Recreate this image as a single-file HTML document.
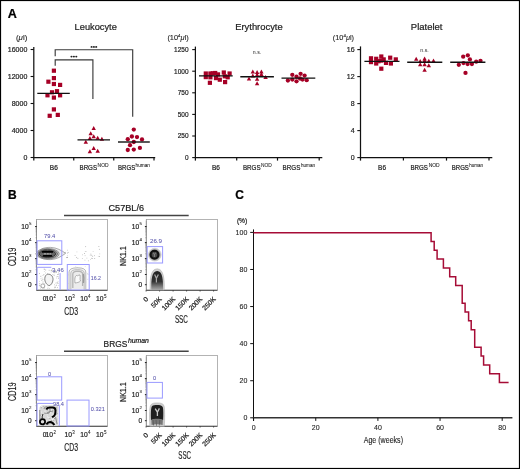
<!DOCTYPE html>
<html><head><meta charset="utf-8"><style>
html,body{margin:0;padding:0;background:#fff;}
svg{display:block;will-change:transform;font-family:"Liberation Sans",sans-serif;}
</style></head><body>
<svg width="520" height="469" viewBox="0 0 520 469" fill="#1e1e1e">
<rect x="0" y="0" width="520" height="469" fill="#fff"/>
<text x="7.8" y="17.6" font-size="12.2" textLength="9.1" lengthAdjust="spacingAndGlyphs" font-weight="bold" fill="#000" stroke="#000" stroke-width="0.22">A</text>
<line x1="33.8" y1="47" x2="33.8" y2="160.6" stroke="#111" stroke-width="1.25"/>
<line x1="33.3" y1="157.6" x2="155.2" y2="157.6" stroke="#111" stroke-width="1.25"/>
<line x1="30.6" y1="49.5" x2="33.8" y2="49.5" stroke="#111" stroke-width="1.1"/>
<text x="27.3" y="51.95" font-size="7.6" text-anchor="end" textLength="19.5" lengthAdjust="spacingAndGlyphs" stroke="#1e1e1e" stroke-width="0.22">16000</text>
<line x1="30.6" y1="76.5" x2="33.8" y2="76.5" stroke="#111" stroke-width="1.1"/>
<text x="27.3" y="78.95" font-size="7.6" text-anchor="end" textLength="19.5" lengthAdjust="spacingAndGlyphs" stroke="#1e1e1e" stroke-width="0.22">12000</text>
<line x1="30.6" y1="103.5" x2="33.8" y2="103.5" stroke="#111" stroke-width="1.1"/>
<text x="27.3" y="105.95" font-size="7.6" text-anchor="end" textLength="15.6" lengthAdjust="spacingAndGlyphs" stroke="#1e1e1e" stroke-width="0.22">8000</text>
<line x1="30.6" y1="130.5" x2="33.8" y2="130.5" stroke="#111" stroke-width="1.1"/>
<text x="27.3" y="132.95" font-size="7.6" text-anchor="end" textLength="15.6" lengthAdjust="spacingAndGlyphs" stroke="#1e1e1e" stroke-width="0.22">4000</text>
<line x1="30.6" y1="157.5" x2="33.8" y2="157.5" stroke="#111" stroke-width="1.1"/>
<text x="27.3" y="159.95" font-size="7.6" text-anchor="end" textLength="3.9" lengthAdjust="spacingAndGlyphs" stroke="#1e1e1e" stroke-width="0.22">0</text>
<line x1="73.75" y1="157.5" x2="73.75" y2="160.6" stroke="#111" stroke-width="1.2"/>
<line x1="113.75" y1="157.5" x2="113.75" y2="160.6" stroke="#111" stroke-width="1.2"/>
<line x1="154" y1="157.5" x2="154" y2="160.6" stroke="#111" stroke-width="1.2"/>
<text x="74.6" y="29.8" font-size="9.8" textLength="42.2" lengthAdjust="spacingAndGlyphs" stroke="#1e1e1e" stroke-width="0.22">Leukocyte</text>
<text x="16" y="40.3" font-size="6.9" textLength="11.3" lengthAdjust="spacingAndGlyphs" stroke="#1e1e1e" stroke-width="0.1">(<tspan font-style="italic">μ</tspan>l)</text>
<text x="49.8" y="170.35" font-size="7.5" textLength="8" lengthAdjust="spacingAndGlyphs" stroke="#1e1e1e" stroke-width="0.22">B6</text>
<text x="79.5" y="170.35" font-size="7.5" textLength="17.6" lengthAdjust="spacingAndGlyphs" stroke="#1e1e1e" stroke-width="0.22">BRGS</text>
<text x="97.6" y="166.5" font-size="5" textLength="11" lengthAdjust="spacingAndGlyphs" stroke="#1e1e1e" stroke-width="0.08">NOD</text>
<text x="118" y="170.35" font-size="7.5" textLength="17.3" lengthAdjust="spacingAndGlyphs" stroke="#1e1e1e" stroke-width="0.22">BRGS</text>
<text x="135.6" y="166.5" font-size="5" textLength="14.4" lengthAdjust="spacingAndGlyphs" stroke="#1e1e1e" stroke-width="0.08">human</text>
<line x1="195.4" y1="46.6" x2="195.4" y2="160.6" stroke="#111" stroke-width="1.25"/>
<line x1="194.9" y1="157.6" x2="322.3" y2="157.6" stroke="#111" stroke-width="1.25"/>
<line x1="192.2" y1="49.6" x2="195.4" y2="49.6" stroke="#111" stroke-width="1.1"/>
<text x="188.5" y="52.05" font-size="7.6" text-anchor="end" textLength="14.4" lengthAdjust="spacingAndGlyphs" stroke="#1e1e1e" stroke-width="0.22">1250</text>
<line x1="192.2" y1="71.2" x2="195.4" y2="71.2" stroke="#111" stroke-width="1.1"/>
<text x="188.5" y="73.65" font-size="7.6" text-anchor="end" textLength="14.4" lengthAdjust="spacingAndGlyphs" stroke="#1e1e1e" stroke-width="0.22">1000</text>
<line x1="192.2" y1="92.8" x2="195.4" y2="92.8" stroke="#111" stroke-width="1.1"/>
<text x="188.5" y="95.25" font-size="7.6" text-anchor="end" textLength="10.8" lengthAdjust="spacingAndGlyphs" stroke="#1e1e1e" stroke-width="0.22">750</text>
<line x1="192.2" y1="114.4" x2="195.4" y2="114.4" stroke="#111" stroke-width="1.1"/>
<text x="188.5" y="116.85" font-size="7.6" text-anchor="end" textLength="10.8" lengthAdjust="spacingAndGlyphs" stroke="#1e1e1e" stroke-width="0.22">500</text>
<line x1="192.2" y1="136" x2="195.4" y2="136" stroke="#111" stroke-width="1.1"/>
<text x="188.5" y="138.45" font-size="7.6" text-anchor="end" textLength="10.8" lengthAdjust="spacingAndGlyphs" stroke="#1e1e1e" stroke-width="0.22">250</text>
<line x1="192.2" y1="157.6" x2="195.4" y2="157.6" stroke="#111" stroke-width="1.1"/>
<text x="188.5" y="160.05" font-size="7.6" text-anchor="end" textLength="3.6" lengthAdjust="spacingAndGlyphs" stroke="#1e1e1e" stroke-width="0.22">0</text>
<line x1="236.7" y1="157.5" x2="236.7" y2="160.6" stroke="#111" stroke-width="1.2"/>
<line x1="277.5" y1="157.5" x2="277.5" y2="160.6" stroke="#111" stroke-width="1.2"/>
<line x1="319.2" y1="157.5" x2="319.2" y2="160.6" stroke="#111" stroke-width="1.2"/>
<text x="235.2" y="29.8" font-size="9.8" textLength="47.5" lengthAdjust="spacingAndGlyphs" stroke="#1e1e1e" stroke-width="0.22">Erythrocyte</text>
<text x="167.4" y="40.2" font-size="6.9" textLength="21.4" lengthAdjust="spacingAndGlyphs" stroke="#1e1e1e" stroke-width="0.1">(10<tspan font-size="4.2" dy="-3">4</tspan><tspan dy="3" font-style="italic">μ</tspan>l)</text>
<text x="211.9" y="170.35" font-size="7.5" textLength="8" lengthAdjust="spacingAndGlyphs" stroke="#1e1e1e" stroke-width="0.22">B6</text>
<text x="242.9" y="170.35" font-size="7.5" textLength="17.7" lengthAdjust="spacingAndGlyphs" stroke="#1e1e1e" stroke-width="0.22">BRGS</text>
<text x="261" y="166.5" font-size="5" textLength="10.8" lengthAdjust="spacingAndGlyphs" stroke="#1e1e1e" stroke-width="0.08">NOD</text>
<text x="282.6" y="170.35" font-size="7.5" textLength="17.8" lengthAdjust="spacingAndGlyphs" stroke="#1e1e1e" stroke-width="0.22">BRGS</text>
<text x="301" y="166.5" font-size="5" textLength="14" lengthAdjust="spacingAndGlyphs" stroke="#1e1e1e" stroke-width="0.08">human</text>
<line x1="360.5" y1="46.4" x2="360.5" y2="160.6" stroke="#111" stroke-width="1.25"/>
<line x1="360" y1="157.6" x2="492.3" y2="157.6" stroke="#111" stroke-width="1.25"/>
<line x1="357.3" y1="49.6" x2="360.5" y2="49.6" stroke="#111" stroke-width="1.1"/>
<text x="354.6" y="52.05" font-size="7.6" text-anchor="end" textLength="7.8" lengthAdjust="spacingAndGlyphs" stroke="#1e1e1e" stroke-width="0.22">16</text>
<line x1="357.3" y1="76.6" x2="360.5" y2="76.6" stroke="#111" stroke-width="1.1"/>
<text x="354.6" y="79.05" font-size="7.6" text-anchor="end" textLength="7.8" lengthAdjust="spacingAndGlyphs" stroke="#1e1e1e" stroke-width="0.22">12</text>
<line x1="357.3" y1="103.6" x2="360.5" y2="103.6" stroke="#111" stroke-width="1.1"/>
<text x="354.6" y="106.05" font-size="7.6" text-anchor="end" textLength="3.9" lengthAdjust="spacingAndGlyphs" stroke="#1e1e1e" stroke-width="0.22">8</text>
<line x1="357.3" y1="130.6" x2="360.5" y2="130.6" stroke="#111" stroke-width="1.1"/>
<text x="354.6" y="133.05" font-size="7.6" text-anchor="end" textLength="3.9" lengthAdjust="spacingAndGlyphs" stroke="#1e1e1e" stroke-width="0.22">4</text>
<line x1="357.3" y1="157.6" x2="360.5" y2="157.6" stroke="#111" stroke-width="1.1"/>
<text x="354.6" y="160.05" font-size="7.6" text-anchor="end" textLength="3.9" lengthAdjust="spacingAndGlyphs" stroke="#1e1e1e" stroke-width="0.22">0</text>
<line x1="403.4" y1="157.5" x2="403.4" y2="160.6" stroke="#111" stroke-width="1.2"/>
<line x1="446.5" y1="157.5" x2="446.5" y2="160.6" stroke="#111" stroke-width="1.2"/>
<line x1="489" y1="157.5" x2="489" y2="160.6" stroke="#111" stroke-width="1.2"/>
<text x="410.8" y="29.8" font-size="9.8" textLength="31.7" lengthAdjust="spacingAndGlyphs" stroke="#1e1e1e" stroke-width="0.22">Platelet</text>
<text x="332.8" y="40.2" font-size="6.9" textLength="21.2" lengthAdjust="spacingAndGlyphs" stroke="#1e1e1e" stroke-width="0.1">(10<tspan font-size="4.2" dy="-3">4</tspan><tspan dy="3" font-style="italic">μ</tspan>l)</text>
<text x="378.1" y="170.35" font-size="7.5" textLength="7.9" lengthAdjust="spacingAndGlyphs" stroke="#1e1e1e" stroke-width="0.22">B6</text>
<text x="410.5" y="170.35" font-size="7.5" textLength="17.5" lengthAdjust="spacingAndGlyphs" stroke="#1e1e1e" stroke-width="0.22">BRGS</text>
<text x="428.7" y="166.5" font-size="5" textLength="11" lengthAdjust="spacingAndGlyphs" stroke="#1e1e1e" stroke-width="0.08">NOD</text>
<text x="451.8" y="170.35" font-size="7.5" textLength="17.1" lengthAdjust="spacingAndGlyphs" stroke="#1e1e1e" stroke-width="0.22">BRGS</text>
<text x="469.3" y="166.5" font-size="5" textLength="13.8" lengthAdjust="spacingAndGlyphs" stroke="#1e1e1e" stroke-width="0.08">human</text>
<path d="M55.2 56.3V49.7H132.7V116.8" fill="none" stroke="#3a3a3a" stroke-width="1.15"/>
<path d="M55.2 65.8V59.8H92.9V99" fill="none" stroke="#3a3a3a" stroke-width="1.15"/>
<ellipse cx="91.6" cy="46.9" rx="1.05" ry="0.95" fill="#222"/>
<ellipse cx="93.9" cy="46.9" rx="1.05" ry="0.95" fill="#222"/>
<ellipse cx="96.2" cy="46.9" rx="1.05" ry="0.95" fill="#222"/>
<ellipse cx="71.5" cy="56.6" rx="1.05" ry="0.95" fill="#222"/>
<ellipse cx="73.9" cy="56.6" rx="1.05" ry="0.95" fill="#222"/>
<ellipse cx="76.3" cy="56.6" rx="1.05" ry="0.95" fill="#222"/>
<text x="257" y="54.3" font-size="5.2" text-anchor="middle" textLength="8.4" lengthAdjust="spacingAndGlyphs" fill="#444" stroke="#444" stroke-width="0.05">n.s.</text>
<text x="424.5" y="51.5" font-size="5.2" text-anchor="middle" textLength="8.4" lengthAdjust="spacingAndGlyphs" fill="#444" stroke="#444" stroke-width="0.05">n.s.</text>
<rect x="51.8" y="68.6" width="4.2" height="4.2" fill="#a60026"/>
<rect x="51.8" y="76" width="4.2" height="4.2" fill="#a60026"/>
<rect x="46.3" y="79.6" width="4.2" height="4.2" fill="#a60026"/>
<rect x="51.8" y="81.9" width="4.2" height="4.2" fill="#a60026"/>
<rect x="58" y="82.8" width="4.2" height="4.2" fill="#a60026"/>
<rect x="49.9" y="90.2" width="4.2" height="4.2" fill="#a60026"/>
<rect x="54.9" y="89.1" width="4.2" height="4.2" fill="#a60026"/>
<rect x="45.4" y="93.2" width="4.2" height="4.2" fill="#a60026"/>
<rect x="58" y="93.2" width="4.2" height="4.2" fill="#a60026"/>
<rect x="51.8" y="95.5" width="4.2" height="4.2" fill="#a60026"/>
<rect x="51.8" y="107.3" width="4.2" height="4.2" fill="#a60026"/>
<rect x="47.6" y="113.7" width="4.2" height="4.2" fill="#a60026"/>
<rect x="55.7" y="112.8" width="4.2" height="4.2" fill="#a60026"/>
<path d="M93.7 126.1L95.9 130.1L91.5 130.1Z" fill="#a60026"/>
<path d="M90.7 131.2L92.9 135.2L88.5 135.2Z" fill="#a60026"/>
<path d="M93.7 134.3L95.9 138.3L91.5 138.3Z" fill="#a60026"/>
<path d="M89.9 136L92.1 140L87.7 140Z" fill="#a60026"/>
<path d="M97.7 135.8L99.9 139.8L95.5 139.8Z" fill="#a60026"/>
<path d="M101.9 136.7L104.1 140.7L99.7 140.7Z" fill="#a60026"/>
<path d="M85.8 139.8L88 143.8L83.6 143.8Z" fill="#a60026"/>
<path d="M93.7 146L95.9 150L91.5 150Z" fill="#a60026"/>
<path d="M89.9 149.3L92.1 153.3L87.7 153.3Z" fill="#a60026"/>
<path d="M97.7 148.7L99.9 152.7L95.5 152.7Z" fill="#a60026"/>
<circle cx="133.8" cy="129.6" r="2.15" fill="#a60026"/>
<circle cx="131.9" cy="136.5" r="2.15" fill="#a60026"/>
<circle cx="137" cy="137.1" r="2.15" fill="#a60026"/>
<circle cx="127.8" cy="139.2" r="2.15" fill="#a60026"/>
<circle cx="142" cy="139.4" r="2.15" fill="#a60026"/>
<circle cx="133.8" cy="142" r="2.15" fill="#a60026"/>
<circle cx="130" cy="145.2" r="2.15" fill="#a60026"/>
<circle cx="139.9" cy="147.9" r="2.15" fill="#a60026"/>
<circle cx="127.8" cy="150" r="2.15" fill="#a60026"/>
<circle cx="133.8" cy="149.6" r="2.15" fill="#a60026"/>
<line x1="37.3" y1="93.45" x2="69.8" y2="93.45" stroke="#111" stroke-width="1.3"/>
<line x1="77.5" y1="139.9" x2="110" y2="139.9" stroke="#111" stroke-width="1.4"/>
<line x1="118" y1="142" x2="149.8" y2="142" stroke="#111" stroke-width="1.4"/>
<rect x="203.7" y="71.4" width="4.2" height="4.2" fill="#a60026"/>
<rect x="203.7" y="75" width="4.2" height="4.2" fill="#a60026"/>
<rect x="208.3" y="71.4" width="4.2" height="4.2" fill="#a60026"/>
<rect x="208.3" y="75.2" width="4.2" height="4.2" fill="#a60026"/>
<rect x="210.7" y="71.2" width="4.2" height="4.2" fill="#a60026"/>
<rect x="213.1" y="70.9" width="4.2" height="4.2" fill="#a60026"/>
<rect x="213.9" y="76" width="4.2" height="4.2" fill="#a60026"/>
<rect x="215.9" y="72.3" width="4.2" height="4.2" fill="#a60026"/>
<rect x="217.7" y="77.6" width="4.2" height="4.2" fill="#a60026"/>
<rect x="221.7" y="70.4" width="4.2" height="4.2" fill="#a60026"/>
<rect x="222.7" y="74.2" width="4.2" height="4.2" fill="#a60026"/>
<rect x="225.6" y="75.2" width="4.2" height="4.2" fill="#a60026"/>
<rect x="227.5" y="71.4" width="4.2" height="4.2" fill="#a60026"/>
<rect x="207.8" y="80.7" width="4.2" height="4.2" fill="#a60026"/>
<rect x="223" y="80" width="4.2" height="4.2" fill="#a60026"/>
<path d="M252.8 69.6L255 73.6L250.6 73.6Z" fill="#a60026"/>
<path d="M252.8 73.5L255 77.5L250.6 77.5Z" fill="#a60026"/>
<path d="M257.1 70.1L259.3 74.1L254.9 74.1Z" fill="#a60026"/>
<path d="M257.1 72.5L259.3 76.5L254.9 76.5Z" fill="#a60026"/>
<path d="M261.4 69.6L263.6 73.6L259.2 73.6Z" fill="#a60026"/>
<path d="M261.4 72L263.6 76L259.2 76Z" fill="#a60026"/>
<path d="M249 76.4L251.2 80.4L246.8 80.4Z" fill="#a60026"/>
<path d="M257.1 76.8L259.3 80.8L254.9 80.8Z" fill="#a60026"/>
<path d="M257.1 81.2L259.3 85.2L254.9 85.2Z" fill="#a60026"/>
<path d="M265.6 75.1L267.8 79.1L263.4 79.1Z" fill="#a60026"/>
<circle cx="292.3" cy="74.8" r="2.15" fill="#a60026"/>
<circle cx="300.6" cy="73.8" r="2.15" fill="#a60026"/>
<circle cx="304.6" cy="75.6" r="2.15" fill="#a60026"/>
<circle cx="296.5" cy="76.7" r="2.15" fill="#a60026"/>
<circle cx="287.9" cy="80.5" r="2.15" fill="#a60026"/>
<circle cx="292.3" cy="79.6" r="2.15" fill="#a60026"/>
<circle cx="296.5" cy="81.3" r="2.15" fill="#a60026"/>
<circle cx="302.5" cy="79.6" r="2.15" fill="#a60026"/>
<circle cx="306.7" cy="80.2" r="2.15" fill="#a60026"/>
<circle cx="300" cy="78.5" r="2.15" fill="#a60026"/>
<line x1="199" y1="75.9" x2="232.7" y2="75.9" stroke="#111" stroke-width="1.4"/>
<line x1="240.3" y1="76.7" x2="273.9" y2="76.7" stroke="#111" stroke-width="1.4"/>
<line x1="281.5" y1="78.1" x2="315.3" y2="78.1" stroke="#111" stroke-width="1.4"/>
<rect x="368.9" y="56.2" width="4.2" height="4.2" fill="#a60026"/>
<rect x="368.9" y="60" width="4.2" height="4.2" fill="#a60026"/>
<rect x="374.1" y="56.7" width="4.2" height="4.2" fill="#a60026"/>
<rect x="374.1" y="61.4" width="4.2" height="4.2" fill="#a60026"/>
<rect x="379.2" y="54.4" width="4.2" height="4.2" fill="#a60026"/>
<rect x="379.2" y="58.5" width="4.2" height="4.2" fill="#a60026"/>
<rect x="381.6" y="57.3" width="4.2" height="4.2" fill="#a60026"/>
<rect x="383.9" y="60.8" width="4.2" height="4.2" fill="#a60026"/>
<rect x="388.1" y="55.6" width="4.2" height="4.2" fill="#a60026"/>
<rect x="388.8" y="61.4" width="4.2" height="4.2" fill="#a60026"/>
<rect x="393.7" y="57.3" width="4.2" height="4.2" fill="#a60026"/>
<rect x="379.2" y="66.6" width="4.2" height="4.2" fill="#a60026"/>
<rect x="376.4" y="59.1" width="4.2" height="4.2" fill="#a60026"/>
<path d="M416.2 56.7L418.4 60.7L414 60.7Z" fill="#a60026"/>
<path d="M420.2 59L422.4 63L418 63Z" fill="#a60026"/>
<path d="M420.2 62.2L422.4 66.2L418 66.2Z" fill="#a60026"/>
<path d="M424.6 56.5L426.8 60.5L422.4 60.5Z" fill="#a60026"/>
<path d="M424.6 58.2L426.8 62.2L422.4 62.2Z" fill="#a60026"/>
<path d="M424.6 62.2L426.8 66.2L422.4 66.2Z" fill="#a60026"/>
<path d="M428.8 58.8L431 62.8L426.6 62.8Z" fill="#a60026"/>
<path d="M428.8 63.2L431 67.2L426.6 67.2Z" fill="#a60026"/>
<path d="M433.5 58.5L435.7 62.5L431.3 62.5Z" fill="#a60026"/>
<path d="M424.6 67.8L426.8 71.8L422.4 71.8Z" fill="#a60026"/>
<circle cx="463.2" cy="56.7" r="2.15" fill="#a60026"/>
<circle cx="467.8" cy="55.3" r="2.15" fill="#a60026"/>
<circle cx="469.9" cy="59.4" r="2.15" fill="#a60026"/>
<circle cx="458.8" cy="64.8" r="2.15" fill="#a60026"/>
<circle cx="463.5" cy="63.1" r="2.15" fill="#a60026"/>
<circle cx="467.6" cy="64" r="2.15" fill="#a60026"/>
<circle cx="471.9" cy="64" r="2.15" fill="#a60026"/>
<circle cx="476.2" cy="61.7" r="2.15" fill="#a60026"/>
<circle cx="480.5" cy="60.8" r="2.15" fill="#a60026"/>
<circle cx="465.5" cy="72.9" r="2.15" fill="#a60026"/>
<line x1="364.4" y1="61.4" x2="399.5" y2="61.4" stroke="#111" stroke-width="1.4"/>
<line x1="407.2" y1="62.3" x2="442.3" y2="62.3" stroke="#111" stroke-width="1.4"/>
<line x1="450.2" y1="62.3" x2="485.4" y2="62.3" stroke="#111" stroke-width="1.4"/>
<text x="7.9" y="199.3" font-size="12" font-weight="bold" fill="#000" stroke="#000" stroke-width="0.22">B</text>
<rect x="36.5" y="219.5" width="70.95" height="70.75" fill="none" stroke="#9a9a9a" stroke-width="0.75"/>
<line x1="36.5" y1="220.5" x2="36.5" y2="290.25" stroke="#888" stroke-width="0.75"/>
<line x1="36.5" y1="290.25" x2="107.45" y2="290.25" stroke="#444" stroke-width="1"/>
<line x1="35.1" y1="226.5" x2="36.8" y2="226.5" stroke="#222" stroke-width="1"/>
<line x1="35.1" y1="242.6" x2="36.8" y2="242.6" stroke="#222" stroke-width="1"/>
<line x1="35.1" y1="258.6" x2="36.8" y2="258.6" stroke="#222" stroke-width="1"/>
<line x1="35.1" y1="274.5" x2="36.8" y2="274.5" stroke="#222" stroke-width="1"/>
<line x1="35.1" y1="284.7" x2="36.8" y2="284.7" stroke="#222" stroke-width="1"/>
<line x1="35.6" y1="237.75" x2="36.5" y2="237.75" stroke="#555" stroke-width="0.5"/>
<line x1="35.6" y1="234.92" x2="36.5" y2="234.92" stroke="#555" stroke-width="0.5"/>
<line x1="35.6" y1="232.91" x2="36.5" y2="232.91" stroke="#555" stroke-width="0.5"/>
<line x1="35.6" y1="231.35" x2="36.5" y2="231.35" stroke="#555" stroke-width="0.5"/>
<line x1="35.6" y1="230.07" x2="36.5" y2="230.07" stroke="#555" stroke-width="0.5"/>
<line x1="35.6" y1="228.99" x2="36.5" y2="228.99" stroke="#555" stroke-width="0.5"/>
<line x1="35.6" y1="228.06" x2="36.5" y2="228.06" stroke="#555" stroke-width="0.5"/>
<line x1="35.6" y1="227.24" x2="36.5" y2="227.24" stroke="#555" stroke-width="0.5"/>
<line x1="35.6" y1="253.78" x2="36.5" y2="253.78" stroke="#555" stroke-width="0.5"/>
<line x1="35.6" y1="250.97" x2="36.5" y2="250.97" stroke="#555" stroke-width="0.5"/>
<line x1="35.6" y1="248.97" x2="36.5" y2="248.97" stroke="#555" stroke-width="0.5"/>
<line x1="35.6" y1="247.42" x2="36.5" y2="247.42" stroke="#555" stroke-width="0.5"/>
<line x1="35.6" y1="246.15" x2="36.5" y2="246.15" stroke="#555" stroke-width="0.5"/>
<line x1="35.6" y1="245.08" x2="36.5" y2="245.08" stroke="#555" stroke-width="0.5"/>
<line x1="35.6" y1="244.15" x2="36.5" y2="244.15" stroke="#555" stroke-width="0.5"/>
<line x1="35.6" y1="243.33" x2="36.5" y2="243.33" stroke="#555" stroke-width="0.5"/>
<line x1="35.6" y1="269.71" x2="36.5" y2="269.71" stroke="#555" stroke-width="0.5"/>
<line x1="35.6" y1="266.91" x2="36.5" y2="266.91" stroke="#555" stroke-width="0.5"/>
<line x1="35.6" y1="264.93" x2="36.5" y2="264.93" stroke="#555" stroke-width="0.5"/>
<line x1="35.6" y1="263.39" x2="36.5" y2="263.39" stroke="#555" stroke-width="0.5"/>
<line x1="35.6" y1="262.13" x2="36.5" y2="262.13" stroke="#555" stroke-width="0.5"/>
<line x1="35.6" y1="261.06" x2="36.5" y2="261.06" stroke="#555" stroke-width="0.5"/>
<line x1="35.6" y1="260.14" x2="36.5" y2="260.14" stroke="#555" stroke-width="0.5"/>
<line x1="35.6" y1="259.33" x2="36.5" y2="259.33" stroke="#555" stroke-width="0.5"/>
<text x="28.7" y="228.8" font-size="7" text-anchor="end" textLength="7.4" lengthAdjust="spacingAndGlyphs" stroke="#1e1e1e" stroke-width="0.22">10</text>
<text x="29" y="224.8" font-size="4.4" stroke="#1e1e1e" stroke-width="0.08">5</text>
<text x="28.7" y="244.9" font-size="7" text-anchor="end" textLength="7.4" lengthAdjust="spacingAndGlyphs" stroke="#1e1e1e" stroke-width="0.22">10</text>
<text x="29" y="240.9" font-size="4.4" stroke="#1e1e1e" stroke-width="0.08">4</text>
<text x="28.7" y="260.9" font-size="7" text-anchor="end" textLength="7.4" lengthAdjust="spacingAndGlyphs" stroke="#1e1e1e" stroke-width="0.22">10</text>
<text x="29" y="256.9" font-size="4.4" stroke="#1e1e1e" stroke-width="0.08">3</text>
<text x="28.7" y="276.8" font-size="7" text-anchor="end" textLength="7.4" lengthAdjust="spacingAndGlyphs" stroke="#1e1e1e" stroke-width="0.22">10</text>
<text x="29" y="272.8" font-size="4.4" stroke="#1e1e1e" stroke-width="0.08">2</text>
<text x="31.7" y="287" font-size="7" text-anchor="end" textLength="3.6" lengthAdjust="spacingAndGlyphs" stroke="#1e1e1e" stroke-width="0.22">0</text>
<text x="42.7" y="301" font-size="7" textLength="3.6" lengthAdjust="spacingAndGlyphs" stroke="#1e1e1e" stroke-width="0.22">0</text>
<text x="45.6" y="301" font-size="7" textLength="7.5" lengthAdjust="spacingAndGlyphs" stroke="#1e1e1e" stroke-width="0.22">10</text>
<text x="53.4" y="298" font-size="4.5" stroke="#1e1e1e" stroke-width="0.08">2</text>
<text x="64.4" y="301" font-size="7" textLength="7.5" lengthAdjust="spacingAndGlyphs" stroke="#1e1e1e" stroke-width="0.22">10</text>
<text x="72.2" y="298" font-size="4.5" stroke="#1e1e1e" stroke-width="0.08">3</text>
<text x="80.2" y="301" font-size="7" textLength="7.5" lengthAdjust="spacingAndGlyphs" stroke="#1e1e1e" stroke-width="0.22">10</text>
<text x="88" y="298" font-size="4.5" stroke="#1e1e1e" stroke-width="0.08">4</text>
<text x="96.1" y="301" font-size="7" textLength="7.5" lengthAdjust="spacingAndGlyphs" stroke="#1e1e1e" stroke-width="0.22">10</text>
<text x="103.9" y="298" font-size="4.5" stroke="#1e1e1e" stroke-width="0.08">5</text>
<text x="64.3" y="314.5" font-size="10.3" textLength="13.8" lengthAdjust="spacingAndGlyphs" stroke="#1e1e1e" stroke-width="0.18">CD3</text>
<text transform="translate(15.6 266.1) rotate(-90)" font-size="10" textLength="18.3" lengthAdjust="spacingAndGlyphs" stroke="#1e1e1e" stroke-width="0.18">CD19</text>
<rect x="146.3" y="219.5" width="71.1" height="70.75" fill="none" stroke="#9a9a9a" stroke-width="0.75"/>
<line x1="146.3" y1="220.5" x2="146.3" y2="290.25" stroke="#888" stroke-width="0.75"/>
<line x1="146.3" y1="290.25" x2="217.4" y2="290.25" stroke="#444" stroke-width="1"/>
<line x1="144.9" y1="226.5" x2="146.6" y2="226.5" stroke="#222" stroke-width="1"/>
<line x1="144.9" y1="242.6" x2="146.6" y2="242.6" stroke="#222" stroke-width="1"/>
<line x1="144.9" y1="258.6" x2="146.6" y2="258.6" stroke="#222" stroke-width="1"/>
<line x1="144.9" y1="274.5" x2="146.6" y2="274.5" stroke="#222" stroke-width="1"/>
<line x1="144.9" y1="284.7" x2="146.6" y2="284.7" stroke="#222" stroke-width="1"/>
<line x1="145.4" y1="237.75" x2="146.3" y2="237.75" stroke="#555" stroke-width="0.5"/>
<line x1="145.4" y1="234.92" x2="146.3" y2="234.92" stroke="#555" stroke-width="0.5"/>
<line x1="145.4" y1="232.91" x2="146.3" y2="232.91" stroke="#555" stroke-width="0.5"/>
<line x1="145.4" y1="231.35" x2="146.3" y2="231.35" stroke="#555" stroke-width="0.5"/>
<line x1="145.4" y1="230.07" x2="146.3" y2="230.07" stroke="#555" stroke-width="0.5"/>
<line x1="145.4" y1="228.99" x2="146.3" y2="228.99" stroke="#555" stroke-width="0.5"/>
<line x1="145.4" y1="228.06" x2="146.3" y2="228.06" stroke="#555" stroke-width="0.5"/>
<line x1="145.4" y1="227.24" x2="146.3" y2="227.24" stroke="#555" stroke-width="0.5"/>
<line x1="145.4" y1="253.78" x2="146.3" y2="253.78" stroke="#555" stroke-width="0.5"/>
<line x1="145.4" y1="250.97" x2="146.3" y2="250.97" stroke="#555" stroke-width="0.5"/>
<line x1="145.4" y1="248.97" x2="146.3" y2="248.97" stroke="#555" stroke-width="0.5"/>
<line x1="145.4" y1="247.42" x2="146.3" y2="247.42" stroke="#555" stroke-width="0.5"/>
<line x1="145.4" y1="246.15" x2="146.3" y2="246.15" stroke="#555" stroke-width="0.5"/>
<line x1="145.4" y1="245.08" x2="146.3" y2="245.08" stroke="#555" stroke-width="0.5"/>
<line x1="145.4" y1="244.15" x2="146.3" y2="244.15" stroke="#555" stroke-width="0.5"/>
<line x1="145.4" y1="243.33" x2="146.3" y2="243.33" stroke="#555" stroke-width="0.5"/>
<line x1="145.4" y1="269.71" x2="146.3" y2="269.71" stroke="#555" stroke-width="0.5"/>
<line x1="145.4" y1="266.91" x2="146.3" y2="266.91" stroke="#555" stroke-width="0.5"/>
<line x1="145.4" y1="264.93" x2="146.3" y2="264.93" stroke="#555" stroke-width="0.5"/>
<line x1="145.4" y1="263.39" x2="146.3" y2="263.39" stroke="#555" stroke-width="0.5"/>
<line x1="145.4" y1="262.13" x2="146.3" y2="262.13" stroke="#555" stroke-width="0.5"/>
<line x1="145.4" y1="261.06" x2="146.3" y2="261.06" stroke="#555" stroke-width="0.5"/>
<line x1="145.4" y1="260.14" x2="146.3" y2="260.14" stroke="#555" stroke-width="0.5"/>
<line x1="145.4" y1="259.33" x2="146.3" y2="259.33" stroke="#555" stroke-width="0.5"/>
<text x="139.2" y="228.8" font-size="7" text-anchor="end" textLength="7.4" lengthAdjust="spacingAndGlyphs" stroke="#1e1e1e" stroke-width="0.22">10</text>
<text x="139.5" y="224.8" font-size="4.4" stroke="#1e1e1e" stroke-width="0.08">5</text>
<text x="139.2" y="244.9" font-size="7" text-anchor="end" textLength="7.4" lengthAdjust="spacingAndGlyphs" stroke="#1e1e1e" stroke-width="0.22">10</text>
<text x="139.5" y="240.9" font-size="4.4" stroke="#1e1e1e" stroke-width="0.08">4</text>
<text x="139.2" y="260.9" font-size="7" text-anchor="end" textLength="7.4" lengthAdjust="spacingAndGlyphs" stroke="#1e1e1e" stroke-width="0.22">10</text>
<text x="139.5" y="256.9" font-size="4.4" stroke="#1e1e1e" stroke-width="0.08">3</text>
<text x="139.2" y="276.8" font-size="7" text-anchor="end" textLength="7.4" lengthAdjust="spacingAndGlyphs" stroke="#1e1e1e" stroke-width="0.22">10</text>
<text x="139.5" y="272.8" font-size="4.4" stroke="#1e1e1e" stroke-width="0.08">2</text>
<text x="142.2" y="287" font-size="7" text-anchor="end" textLength="3.6" lengthAdjust="spacingAndGlyphs" stroke="#1e1e1e" stroke-width="0.22">0</text>
<text transform="translate(148.7 299.6) rotate(-45)" font-size="6.8" text-anchor="end" stroke="#1e1e1e" stroke-width="0.22">0</text>
<line x1="146.1" y1="290" x2="146.1" y2="291.6" stroke="#333" stroke-width="0.7"/>
<text transform="translate(162.2 299.6) rotate(-45)" font-size="6.8" text-anchor="end" stroke="#1e1e1e" stroke-width="0.22">50K</text>
<line x1="159.6" y1="290" x2="159.6" y2="291.6" stroke="#333" stroke-width="0.7"/>
<text transform="translate(175.7 299.6) rotate(-45)" font-size="6.8" text-anchor="end" stroke="#1e1e1e" stroke-width="0.22">100K</text>
<line x1="173.1" y1="290" x2="173.1" y2="291.6" stroke="#333" stroke-width="0.7"/>
<text transform="translate(189.2 299.6) rotate(-45)" font-size="6.8" text-anchor="end" stroke="#1e1e1e" stroke-width="0.22">150K</text>
<line x1="186.6" y1="290" x2="186.6" y2="291.6" stroke="#333" stroke-width="0.7"/>
<text transform="translate(202.7 299.6) rotate(-45)" font-size="6.8" text-anchor="end" stroke="#1e1e1e" stroke-width="0.22">200K</text>
<line x1="200.1" y1="290" x2="200.1" y2="291.6" stroke="#333" stroke-width="0.7"/>
<text transform="translate(216.2 299.6) rotate(-45)" font-size="6.8" text-anchor="end" stroke="#1e1e1e" stroke-width="0.22">250K</text>
<line x1="213.6" y1="290" x2="213.6" y2="291.6" stroke="#333" stroke-width="0.7"/>
<text x="174.9" y="322.9" font-size="10.3" textLength="13" lengthAdjust="spacingAndGlyphs" stroke="#1e1e1e" stroke-width="0.18">SSC</text>
<text transform="translate(125.7 265.9) rotate(-90)" font-size="9.6" textLength="19.5" lengthAdjust="spacingAndGlyphs" stroke="#1e1e1e" stroke-width="0.22">NK1.1</text>
<rect x="36.5" y="355.5" width="70.95" height="70.75" fill="none" stroke="#9a9a9a" stroke-width="0.75"/>
<line x1="36.5" y1="356.5" x2="36.5" y2="426.25" stroke="#888" stroke-width="0.75"/>
<line x1="36.5" y1="426.25" x2="107.45" y2="426.25" stroke="#444" stroke-width="1"/>
<line x1="35.1" y1="362.5" x2="36.8" y2="362.5" stroke="#222" stroke-width="1"/>
<line x1="35.1" y1="378.6" x2="36.8" y2="378.6" stroke="#222" stroke-width="1"/>
<line x1="35.1" y1="394.6" x2="36.8" y2="394.6" stroke="#222" stroke-width="1"/>
<line x1="35.1" y1="410.5" x2="36.8" y2="410.5" stroke="#222" stroke-width="1"/>
<line x1="35.1" y1="420.7" x2="36.8" y2="420.7" stroke="#222" stroke-width="1"/>
<line x1="35.6" y1="373.75" x2="36.5" y2="373.75" stroke="#555" stroke-width="0.5"/>
<line x1="35.6" y1="370.92" x2="36.5" y2="370.92" stroke="#555" stroke-width="0.5"/>
<line x1="35.6" y1="368.91" x2="36.5" y2="368.91" stroke="#555" stroke-width="0.5"/>
<line x1="35.6" y1="367.35" x2="36.5" y2="367.35" stroke="#555" stroke-width="0.5"/>
<line x1="35.6" y1="366.07" x2="36.5" y2="366.07" stroke="#555" stroke-width="0.5"/>
<line x1="35.6" y1="364.99" x2="36.5" y2="364.99" stroke="#555" stroke-width="0.5"/>
<line x1="35.6" y1="364.06" x2="36.5" y2="364.06" stroke="#555" stroke-width="0.5"/>
<line x1="35.6" y1="363.24" x2="36.5" y2="363.24" stroke="#555" stroke-width="0.5"/>
<line x1="35.6" y1="389.78" x2="36.5" y2="389.78" stroke="#555" stroke-width="0.5"/>
<line x1="35.6" y1="386.97" x2="36.5" y2="386.97" stroke="#555" stroke-width="0.5"/>
<line x1="35.6" y1="384.97" x2="36.5" y2="384.97" stroke="#555" stroke-width="0.5"/>
<line x1="35.6" y1="383.42" x2="36.5" y2="383.42" stroke="#555" stroke-width="0.5"/>
<line x1="35.6" y1="382.15" x2="36.5" y2="382.15" stroke="#555" stroke-width="0.5"/>
<line x1="35.6" y1="381.08" x2="36.5" y2="381.08" stroke="#555" stroke-width="0.5"/>
<line x1="35.6" y1="380.15" x2="36.5" y2="380.15" stroke="#555" stroke-width="0.5"/>
<line x1="35.6" y1="379.33" x2="36.5" y2="379.33" stroke="#555" stroke-width="0.5"/>
<line x1="35.6" y1="405.71" x2="36.5" y2="405.71" stroke="#555" stroke-width="0.5"/>
<line x1="35.6" y1="402.91" x2="36.5" y2="402.91" stroke="#555" stroke-width="0.5"/>
<line x1="35.6" y1="400.93" x2="36.5" y2="400.93" stroke="#555" stroke-width="0.5"/>
<line x1="35.6" y1="399.39" x2="36.5" y2="399.39" stroke="#555" stroke-width="0.5"/>
<line x1="35.6" y1="398.13" x2="36.5" y2="398.13" stroke="#555" stroke-width="0.5"/>
<line x1="35.6" y1="397.06" x2="36.5" y2="397.06" stroke="#555" stroke-width="0.5"/>
<line x1="35.6" y1="396.14" x2="36.5" y2="396.14" stroke="#555" stroke-width="0.5"/>
<line x1="35.6" y1="395.33" x2="36.5" y2="395.33" stroke="#555" stroke-width="0.5"/>
<text x="28.7" y="364.8" font-size="7" text-anchor="end" textLength="7.4" lengthAdjust="spacingAndGlyphs" stroke="#1e1e1e" stroke-width="0.22">10</text>
<text x="29" y="360.8" font-size="4.4" stroke="#1e1e1e" stroke-width="0.08">5</text>
<text x="28.7" y="380.9" font-size="7" text-anchor="end" textLength="7.4" lengthAdjust="spacingAndGlyphs" stroke="#1e1e1e" stroke-width="0.22">10</text>
<text x="29" y="376.9" font-size="4.4" stroke="#1e1e1e" stroke-width="0.08">4</text>
<text x="28.7" y="396.9" font-size="7" text-anchor="end" textLength="7.4" lengthAdjust="spacingAndGlyphs" stroke="#1e1e1e" stroke-width="0.22">10</text>
<text x="29" y="392.9" font-size="4.4" stroke="#1e1e1e" stroke-width="0.08">3</text>
<text x="28.7" y="412.8" font-size="7" text-anchor="end" textLength="7.4" lengthAdjust="spacingAndGlyphs" stroke="#1e1e1e" stroke-width="0.22">10</text>
<text x="29" y="408.8" font-size="4.4" stroke="#1e1e1e" stroke-width="0.08">2</text>
<text x="31.7" y="423" font-size="7" text-anchor="end" textLength="3.6" lengthAdjust="spacingAndGlyphs" stroke="#1e1e1e" stroke-width="0.22">0</text>
<text x="42.7" y="437" font-size="7" textLength="3.6" lengthAdjust="spacingAndGlyphs" stroke="#1e1e1e" stroke-width="0.22">0</text>
<text x="45.6" y="437" font-size="7" textLength="7.5" lengthAdjust="spacingAndGlyphs" stroke="#1e1e1e" stroke-width="0.22">10</text>
<text x="53.4" y="434" font-size="4.5" stroke="#1e1e1e" stroke-width="0.08">2</text>
<text x="64.4" y="437" font-size="7" textLength="7.5" lengthAdjust="spacingAndGlyphs" stroke="#1e1e1e" stroke-width="0.22">10</text>
<text x="72.2" y="434" font-size="4.5" stroke="#1e1e1e" stroke-width="0.08">3</text>
<text x="80.2" y="437" font-size="7" textLength="7.5" lengthAdjust="spacingAndGlyphs" stroke="#1e1e1e" stroke-width="0.22">10</text>
<text x="88" y="434" font-size="4.5" stroke="#1e1e1e" stroke-width="0.08">4</text>
<text x="96.1" y="437" font-size="7" textLength="7.5" lengthAdjust="spacingAndGlyphs" stroke="#1e1e1e" stroke-width="0.22">10</text>
<text x="103.9" y="434" font-size="4.5" stroke="#1e1e1e" stroke-width="0.08">5</text>
<text x="64.3" y="450.5" font-size="10.3" textLength="13.8" lengthAdjust="spacingAndGlyphs" stroke="#1e1e1e" stroke-width="0.18">CD3</text>
<text transform="translate(15.6 400.9) rotate(-90)" font-size="10" textLength="18.3" lengthAdjust="spacingAndGlyphs" stroke="#1e1e1e" stroke-width="0.18">CD19</text>
<rect x="146.3" y="355.5" width="71.1" height="70.75" fill="none" stroke="#9a9a9a" stroke-width="0.75"/>
<line x1="146.3" y1="356.5" x2="146.3" y2="426.25" stroke="#888" stroke-width="0.75"/>
<line x1="146.3" y1="426.25" x2="217.4" y2="426.25" stroke="#444" stroke-width="1"/>
<line x1="144.9" y1="362.5" x2="146.6" y2="362.5" stroke="#222" stroke-width="1"/>
<line x1="144.9" y1="378.6" x2="146.6" y2="378.6" stroke="#222" stroke-width="1"/>
<line x1="144.9" y1="394.6" x2="146.6" y2="394.6" stroke="#222" stroke-width="1"/>
<line x1="144.9" y1="410.5" x2="146.6" y2="410.5" stroke="#222" stroke-width="1"/>
<line x1="144.9" y1="420.7" x2="146.6" y2="420.7" stroke="#222" stroke-width="1"/>
<line x1="145.4" y1="373.75" x2="146.3" y2="373.75" stroke="#555" stroke-width="0.5"/>
<line x1="145.4" y1="370.92" x2="146.3" y2="370.92" stroke="#555" stroke-width="0.5"/>
<line x1="145.4" y1="368.91" x2="146.3" y2="368.91" stroke="#555" stroke-width="0.5"/>
<line x1="145.4" y1="367.35" x2="146.3" y2="367.35" stroke="#555" stroke-width="0.5"/>
<line x1="145.4" y1="366.07" x2="146.3" y2="366.07" stroke="#555" stroke-width="0.5"/>
<line x1="145.4" y1="364.99" x2="146.3" y2="364.99" stroke="#555" stroke-width="0.5"/>
<line x1="145.4" y1="364.06" x2="146.3" y2="364.06" stroke="#555" stroke-width="0.5"/>
<line x1="145.4" y1="363.24" x2="146.3" y2="363.24" stroke="#555" stroke-width="0.5"/>
<line x1="145.4" y1="389.78" x2="146.3" y2="389.78" stroke="#555" stroke-width="0.5"/>
<line x1="145.4" y1="386.97" x2="146.3" y2="386.97" stroke="#555" stroke-width="0.5"/>
<line x1="145.4" y1="384.97" x2="146.3" y2="384.97" stroke="#555" stroke-width="0.5"/>
<line x1="145.4" y1="383.42" x2="146.3" y2="383.42" stroke="#555" stroke-width="0.5"/>
<line x1="145.4" y1="382.15" x2="146.3" y2="382.15" stroke="#555" stroke-width="0.5"/>
<line x1="145.4" y1="381.08" x2="146.3" y2="381.08" stroke="#555" stroke-width="0.5"/>
<line x1="145.4" y1="380.15" x2="146.3" y2="380.15" stroke="#555" stroke-width="0.5"/>
<line x1="145.4" y1="379.33" x2="146.3" y2="379.33" stroke="#555" stroke-width="0.5"/>
<line x1="145.4" y1="405.71" x2="146.3" y2="405.71" stroke="#555" stroke-width="0.5"/>
<line x1="145.4" y1="402.91" x2="146.3" y2="402.91" stroke="#555" stroke-width="0.5"/>
<line x1="145.4" y1="400.93" x2="146.3" y2="400.93" stroke="#555" stroke-width="0.5"/>
<line x1="145.4" y1="399.39" x2="146.3" y2="399.39" stroke="#555" stroke-width="0.5"/>
<line x1="145.4" y1="398.13" x2="146.3" y2="398.13" stroke="#555" stroke-width="0.5"/>
<line x1="145.4" y1="397.06" x2="146.3" y2="397.06" stroke="#555" stroke-width="0.5"/>
<line x1="145.4" y1="396.14" x2="146.3" y2="396.14" stroke="#555" stroke-width="0.5"/>
<line x1="145.4" y1="395.33" x2="146.3" y2="395.33" stroke="#555" stroke-width="0.5"/>
<text x="139.2" y="364.8" font-size="7" text-anchor="end" textLength="7.4" lengthAdjust="spacingAndGlyphs" stroke="#1e1e1e" stroke-width="0.22">10</text>
<text x="139.5" y="360.8" font-size="4.4" stroke="#1e1e1e" stroke-width="0.08">5</text>
<text x="139.2" y="380.9" font-size="7" text-anchor="end" textLength="7.4" lengthAdjust="spacingAndGlyphs" stroke="#1e1e1e" stroke-width="0.22">10</text>
<text x="139.5" y="376.9" font-size="4.4" stroke="#1e1e1e" stroke-width="0.08">4</text>
<text x="139.2" y="396.9" font-size="7" text-anchor="end" textLength="7.4" lengthAdjust="spacingAndGlyphs" stroke="#1e1e1e" stroke-width="0.22">10</text>
<text x="139.5" y="392.9" font-size="4.4" stroke="#1e1e1e" stroke-width="0.08">3</text>
<text x="139.2" y="412.8" font-size="7" text-anchor="end" textLength="7.4" lengthAdjust="spacingAndGlyphs" stroke="#1e1e1e" stroke-width="0.22">10</text>
<text x="139.5" y="408.8" font-size="4.4" stroke="#1e1e1e" stroke-width="0.08">2</text>
<text x="142.2" y="423" font-size="7" text-anchor="end" textLength="3.6" lengthAdjust="spacingAndGlyphs" stroke="#1e1e1e" stroke-width="0.22">0</text>
<text transform="translate(148.7 435.6) rotate(-45)" font-size="6.8" text-anchor="end" stroke="#1e1e1e" stroke-width="0.22">0</text>
<line x1="146.1" y1="426" x2="146.1" y2="427.6" stroke="#333" stroke-width="0.7"/>
<text transform="translate(162.2 435.6) rotate(-45)" font-size="6.8" text-anchor="end" stroke="#1e1e1e" stroke-width="0.22">50K</text>
<line x1="159.6" y1="426" x2="159.6" y2="427.6" stroke="#333" stroke-width="0.7"/>
<text transform="translate(175.7 435.6) rotate(-45)" font-size="6.8" text-anchor="end" stroke="#1e1e1e" stroke-width="0.22">100K</text>
<line x1="173.1" y1="426" x2="173.1" y2="427.6" stroke="#333" stroke-width="0.7"/>
<text transform="translate(189.2 435.6) rotate(-45)" font-size="6.8" text-anchor="end" stroke="#1e1e1e" stroke-width="0.22">150K</text>
<line x1="186.6" y1="426" x2="186.6" y2="427.6" stroke="#333" stroke-width="0.7"/>
<text transform="translate(202.7 435.6) rotate(-45)" font-size="6.8" text-anchor="end" stroke="#1e1e1e" stroke-width="0.22">200K</text>
<line x1="200.1" y1="426" x2="200.1" y2="427.6" stroke="#333" stroke-width="0.7"/>
<text transform="translate(216.2 435.6) rotate(-45)" font-size="6.8" text-anchor="end" stroke="#1e1e1e" stroke-width="0.22">250K</text>
<line x1="213.6" y1="426" x2="213.6" y2="427.6" stroke="#333" stroke-width="0.7"/>
<text x="178.3" y="459.1" font-size="10.3" textLength="12.7" lengthAdjust="spacingAndGlyphs" stroke="#1e1e1e" stroke-width="0.18">SSC</text>
<text transform="translate(125.7 401.9) rotate(-90)" font-size="9.6" textLength="19.5" lengthAdjust="spacingAndGlyphs" stroke="#1e1e1e" stroke-width="0.22">NK1.1</text>
<text x="108.5" y="210.6" font-size="9.4" textLength="35.5" lengthAdjust="spacingAndGlyphs" stroke="#1e1e1e" stroke-width="0.22">C57BL/6</text>
<line x1="64" y1="215.4" x2="188.7" y2="215.4" stroke="#444" stroke-width="1.5"/>
<text x="103.6" y="346.7" font-size="9.4" textLength="23.7" lengthAdjust="spacingAndGlyphs" stroke="#1e1e1e" stroke-width="0.22">BRGS</text>
<text x="127.9" y="342.9" font-size="6.6" textLength="21" lengthAdjust="spacingAndGlyphs" font-style="italic" stroke="#1e1e1e" stroke-width="0.22">human</text>
<line x1="64" y1="351.2" x2="188.7" y2="351.2" stroke="#444" stroke-width="1.5"/>
<rect x="75.98" y="256.96" width="0.7" height="0.7" fill="#888"/>
<rect x="94.39" y="258.12" width="0.7" height="0.7" fill="#888"/>
<rect x="77.53" y="257.89" width="0.7" height="0.7" fill="#888"/>
<rect x="67.18" y="255.48" width="0.7" height="0.7" fill="#bbb"/>
<rect x="66.58" y="257.1" width="0.7" height="0.7" fill="#888"/>
<rect x="99.06" y="255.99" width="0.7" height="0.7" fill="#888"/>
<rect x="85.35" y="246.37" width="0.7" height="0.7" fill="#888"/>
<rect x="84.6" y="259.79" width="0.7" height="0.7" fill="#aaa"/>
<rect x="74.72" y="255.08" width="0.7" height="0.7" fill="#999"/>
<rect x="84.73" y="255.38" width="0.7" height="0.7" fill="#aaa"/>
<rect x="67.81" y="251.96" width="0.7" height="0.7" fill="#888"/>
<rect x="84.27" y="253.02" width="0.7" height="0.7" fill="#888"/>
<rect x="84.88" y="250.99" width="0.7" height="0.7" fill="#bbb"/>
<rect x="92.76" y="251.21" width="0.7" height="0.7" fill="#bbb"/>
<rect x="85.67" y="251.17" width="0.7" height="0.7" fill="#aaa"/>
<rect x="89.86" y="254.86" width="0.7" height="0.7" fill="#aaa"/>
<rect x="67.03" y="252.73" width="0.7" height="0.7" fill="#999"/>
<rect x="90.99" y="257.89" width="0.7" height="0.7" fill="#999"/>
<rect x="86.53" y="257.76" width="0.7" height="0.7" fill="#aaa"/>
<rect x="92.01" y="255.86" width="0.7" height="0.7" fill="#aaa"/>
<rect x="98.53" y="246.11" width="0.7" height="0.7" fill="#888"/>
<rect x="92.29" y="258.23" width="0.7" height="0.7" fill="#999"/>
<rect x="76.58" y="251.59" width="0.7" height="0.7" fill="#bbb"/>
<rect x="66.54" y="257.32" width="0.7" height="0.7" fill="#888"/>
<rect x="98.95" y="248.9" width="0.7" height="0.7" fill="#888"/>
<rect x="91.05" y="254.84" width="0.7" height="0.7" fill="#999"/>
<rect x="87.94" y="260.5" width="0.7" height="0.7" fill="#999"/>
<rect x="90.52" y="253.72" width="0.7" height="0.7" fill="#999"/>
<rect x="64.83" y="251.94" width="0.7" height="0.7" fill="#888"/>
<rect x="82.27" y="254.51" width="0.7" height="0.7" fill="#aaa"/>
<rect x="92.42" y="255.82" width="0.7" height="0.7" fill="#bbb"/>
<rect x="97.92" y="255.92" width="0.7" height="0.7" fill="#bbb"/>
<rect x="66.98" y="249.8" width="0.7" height="0.7" fill="#aaa"/>
<rect x="94.31" y="255.39" width="0.7" height="0.7" fill="#999"/>
<rect x="90.14" y="259.28" width="0.7" height="0.7" fill="#bbb"/>
<rect x="99.44" y="253.55" width="0.7" height="0.7" fill="#aaa"/>
<rect x="67.07" y="256.98" width="0.7" height="0.7" fill="#888"/>
<rect x="81.94" y="258.18" width="0.7" height="0.7" fill="#aaa"/>
<rect x="43.75" y="268.59" width="0.8" height="0.8" fill="#ccc"/>
<rect x="49.19" y="281.31" width="0.8" height="0.8" fill="#bbb"/>
<rect x="57.56" y="283" width="0.8" height="0.8" fill="#999"/>
<rect x="47.63" y="286.79" width="0.8" height="0.8" fill="#ccc"/>
<rect x="46.46" y="276.78" width="0.8" height="0.8" fill="#ccc"/>
<rect x="51.19" y="269.81" width="0.8" height="0.8" fill="#999"/>
<rect x="58.19" y="277.75" width="0.8" height="0.8" fill="#999"/>
<rect x="45.3" y="269.6" width="0.8" height="0.8" fill="#999"/>
<rect x="49.84" y="279.77" width="0.8" height="0.8" fill="#bbb"/>
<rect x="50.77" y="269.98" width="0.8" height="0.8" fill="#aaa"/>
<rect x="50.78" y="271.62" width="0.8" height="0.8" fill="#bbb"/>
<rect x="57.61" y="281.15" width="0.8" height="0.8" fill="#ccc"/>
<rect x="40.96" y="286.33" width="0.8" height="0.8" fill="#ccc"/>
<rect x="48.11" y="275.05" width="0.8" height="0.8" fill="#aaa"/>
<rect x="40.54" y="275.7" width="0.8" height="0.8" fill="#bbb"/>
<rect x="48.07" y="283.03" width="0.8" height="0.8" fill="#999"/>
<rect x="42.6" y="288.49" width="0.8" height="0.8" fill="#bbb"/>
<rect x="41.43" y="279.91" width="0.8" height="0.8" fill="#999"/>
<rect x="53.66" y="274.76" width="0.8" height="0.8" fill="#999"/>
<rect x="52.42" y="273.98" width="0.8" height="0.8" fill="#bbb"/>
<rect x="56.67" y="275.97" width="0.8" height="0.8" fill="#aaa"/>
<rect x="49.15" y="284.86" width="0.8" height="0.8" fill="#bbb"/>
<rect x="51.23" y="281.38" width="0.8" height="0.8" fill="#aaa"/>
<rect x="54.62" y="285.68" width="0.8" height="0.8" fill="#aaa"/>
<rect x="42.5" y="278.85" width="0.8" height="0.8" fill="#999"/>
<rect x="58.29" y="285.09" width="0.8" height="0.8" fill="#ccc"/>
<rect x="43.68" y="283.04" width="0.8" height="0.8" fill="#bbb"/>
<rect x="47.44" y="288.18" width="0.8" height="0.8" fill="#bbb"/>
<rect x="57.6" y="276.16" width="0.8" height="0.8" fill="#aaa"/>
<rect x="40.54" y="278.37" width="0.8" height="0.8" fill="#bbb"/>
<rect x="42.59" y="281.61" width="0.8" height="0.8" fill="#999"/>
<rect x="48.09" y="282.21" width="0.8" height="0.8" fill="#999"/>
<rect x="55.19" y="271.02" width="0.8" height="0.8" fill="#ccc"/>
<rect x="54.15" y="284.25" width="0.8" height="0.8" fill="#ccc"/>
<rect x="56.28" y="277.61" width="0.8" height="0.8" fill="#bbb"/>
<rect x="40.23" y="288.37" width="0.8" height="0.8" fill="#ccc"/>
<rect x="47.76" y="284.11" width="0.8" height="0.8" fill="#999"/>
<rect x="53" y="272.07" width="0.8" height="0.8" fill="#aaa"/>
<rect x="39.05" y="280.91" width="0.8" height="0.8" fill="#ccc"/>
<rect x="54.63" y="271.57" width="0.8" height="0.8" fill="#ccc"/>
<rect x="51.65" y="275.86" width="0.8" height="0.8" fill="#aaa"/>
<rect x="38.93" y="285.29" width="0.8" height="0.8" fill="#999"/>
<rect x="49.03" y="288.11" width="0.8" height="0.8" fill="#ccc"/>
<rect x="58.23" y="272.59" width="0.8" height="0.8" fill="#aaa"/>
<rect x="39.06" y="272.97" width="0.8" height="0.8" fill="#aaa"/>
<rect x="53.77" y="275.35" width="0.8" height="0.8" fill="#ccc"/>
<rect x="55.18" y="269.78" width="0.8" height="0.8" fill="#bbb"/>
<rect x="56.45" y="282.41" width="0.8" height="0.8" fill="#ccc"/>
<rect x="55.04" y="286.94" width="0.8" height="0.8" fill="#aaa"/>
<rect x="49.14" y="279.49" width="0.8" height="0.8" fill="#999"/>
<rect x="55.96" y="284.81" width="0.8" height="0.8" fill="#999"/>
<rect x="54.02" y="271.65" width="0.8" height="0.8" fill="#aaa"/>
<rect x="47.97" y="283.73" width="0.8" height="0.8" fill="#999"/>
<rect x="45.02" y="279.39" width="0.8" height="0.8" fill="#ccc"/>
<rect x="54.19" y="270.73" width="0.8" height="0.8" fill="#999"/>
<rect x="43.47" y="274.32" width="0.8" height="0.8" fill="#999"/>
<rect x="48.65" y="280.3" width="0.8" height="0.8" fill="#999"/>
<rect x="47.36" y="281.36" width="0.8" height="0.8" fill="#aaa"/>
<rect x="52.35" y="278" width="0.8" height="0.8" fill="#ccc"/>
<rect x="48.66" y="273.7" width="0.8" height="0.8" fill="#bbb"/>
<rect x="56.96" y="287.25" width="0.8" height="0.8" fill="#aaa"/>
<rect x="55.3" y="271.38" width="0.8" height="0.8" fill="#999"/>
<rect x="46.35" y="275.14" width="0.8" height="0.8" fill="#aaa"/>
<rect x="47.07" y="272.97" width="0.8" height="0.8" fill="#bbb"/>
<rect x="54.18" y="287.34" width="0.8" height="0.8" fill="#aaa"/>
<rect x="57.29" y="282.01" width="0.8" height="0.8" fill="#bbb"/>
<rect x="41.36" y="287.04" width="0.8" height="0.8" fill="#ccc"/>
<rect x="42.89" y="288.5" width="0.8" height="0.8" fill="#ccc"/>
<rect x="56.2" y="271.92" width="0.8" height="0.8" fill="#aaa"/>
<rect x="41.73" y="277.56" width="0.8" height="0.8" fill="#ccc"/>
<rect x="45.28" y="272.61" width="0.8" height="0.8" fill="#bbb"/>
<rect x="40.34" y="276.19" width="0.8" height="0.8" fill="#bbb"/>
<rect x="49.58" y="277.75" width="0.8" height="0.8" fill="#999"/>
<rect x="46.19" y="279.37" width="0.8" height="0.8" fill="#bbb"/>
<rect x="48.75" y="269.85" width="0.8" height="0.8" fill="#aaa"/>
<rect x="57.93" y="270.7" width="0.8" height="0.8" fill="#bbb"/>
<rect x="43.94" y="287.52" width="0.8" height="0.8" fill="#aaa"/>
<rect x="43.91" y="271.22" width="0.8" height="0.8" fill="#ccc"/>
<rect x="55.49" y="282.7" width="0.8" height="0.8" fill="#bbb"/>
<rect x="46.62" y="279.77" width="0.8" height="0.8" fill="#ccc"/>
<rect x="52.51" y="270.38" width="0.8" height="0.8" fill="#999"/>
<rect x="54.49" y="272.35" width="0.8" height="0.8" fill="#999"/>
<rect x="43.88" y="268.85" width="0.8" height="0.8" fill="#999"/>
<rect x="54.53" y="270.26" width="0.8" height="0.8" fill="#aaa"/>
<rect x="39.83" y="286.62" width="0.8" height="0.8" fill="#ccc"/>
<rect x="38.73" y="289.38" width="0.8" height="0.8" fill="#ccc"/>
<rect x="57.03" y="274.13" width="0.8" height="0.8" fill="#aaa"/>
<rect x="39.36" y="283.4" width="0.8" height="0.8" fill="#999"/>
<rect x="57.88" y="274" width="0.8" height="0.8" fill="#aaa"/>
<rect x="42.54" y="275.05" width="0.8" height="0.8" fill="#bbb"/>
<rect x="78.86" y="270.84" width="0.7" height="0.7" fill="#ccc"/>
<rect x="78.25" y="270.18" width="0.7" height="0.7" fill="#ccc"/>
<rect x="84.17" y="289.37" width="0.7" height="0.7" fill="#bbb"/>
<rect x="68.8" y="283.23" width="0.7" height="0.7" fill="#bbb"/>
<rect x="78.53" y="271.77" width="0.7" height="0.7" fill="#ccc"/>
<rect x="70.57" y="285.24" width="0.7" height="0.7" fill="#ccc"/>
<rect x="81.3" y="278.83" width="0.7" height="0.7" fill="#ccc"/>
<rect x="87.42" y="273.23" width="0.7" height="0.7" fill="#bbb"/>
<rect x="87.66" y="274.05" width="0.7" height="0.7" fill="#bbb"/>
<rect x="76.39" y="274.17" width="0.7" height="0.7" fill="#bbb"/>
<rect x="84.82" y="266.33" width="0.7" height="0.7" fill="#ccc"/>
<rect x="76.9" y="267.3" width="0.7" height="0.7" fill="#ccc"/>
<rect x="85.48" y="281.76" width="0.7" height="0.7" fill="#ccc"/>
<rect x="80.18" y="282.28" width="0.7" height="0.7" fill="#bbb"/>
<rect x="77.46" y="269.7" width="0.7" height="0.7" fill="#ccc"/>
<rect x="68.57" y="274.56" width="0.7" height="0.7" fill="#ccc"/>
<rect x="87.47" y="278.86" width="0.7" height="0.7" fill="#bbb"/>
<rect x="69.17" y="286.74" width="0.7" height="0.7" fill="#bbb"/>
<rect x="75.45" y="266.03" width="0.7" height="0.7" fill="#ccc"/>
<rect x="70.14" y="272.55" width="0.7" height="0.7" fill="#bbb"/>
<rect x="73.34" y="284.24" width="0.7" height="0.7" fill="#bbb"/>
<rect x="73.65" y="268.11" width="0.7" height="0.7" fill="#ccc"/>
<rect x="79.94" y="275.26" width="0.7" height="0.7" fill="#ccc"/>
<rect x="74.43" y="271.47" width="0.7" height="0.7" fill="#bbb"/>
<rect x="81.32" y="282.83" width="0.7" height="0.7" fill="#ccc"/>
<path d="M38 253.6 C38.5 249 44 247.3 50.5 247.4 C57 247.6 61.5 250.5 65.6 253.3 C61.5 256.3 57 259.4 50.5 259.6 C44 259.7 38.4 258 38 253.6Z" fill="#f0f0f0" stroke="#777" stroke-width="0.6"/>
<ellipse cx="47.6" cy="253.8" rx="11.6" ry="5.3" fill="#d4d4d4" stroke="#666" stroke-width="0.6"/>
<ellipse cx="47.5" cy="253.8" rx="10" ry="4.5" fill="#aaa" stroke="#444" stroke-width="0.7"/>
<ellipse cx="47.4" cy="253.8" rx="8.3" ry="3.6" fill="#666" stroke="#222" stroke-width="0.8"/>
<path d="M42.6 251.9 H52.4 M43.6 255.8 H51.4" stroke="#000" stroke-width="1.7" stroke-linecap="round"/>
<path d="M44 253.85 H51" stroke="#bbb" stroke-width="0.9" stroke-dasharray="2 0.8"/>
<path d="M47.6 274.3 C51 273.8 53.2 276.5 53 279.8 C52.8 282.8 50.6 285.6 49.2 285.6 C47 285.3 44.6 282 44.8 278.6 C44.9 276.2 45.9 274.6 47.6 274.3Z" fill="#f4f4f4" stroke="#666" stroke-width="0.8"/>
<circle cx="42.8" cy="285.9" r="2.0" fill="none" stroke="#999" stroke-width="0.9"/>
<path d="M69 290 V272 Q69 267.8 77.6 267.8 Q85.8 267.8 85.8 272 V290" fill="#f6f6f6" stroke="#8a8a8a" stroke-width="0.6"/>
<path d="M70.8 290 V273 Q70.8 269.6 77.6 269.6 Q84.2 269.6 84.2 273 V290" fill="#ececec" stroke="#999" stroke-width="0.6"/>
<path d="M72.8 288 V274 Q73 271.4 77.6 271.2 Q82.6 271.4 82.6 274 V286" fill="none" stroke="#b4b4b4" stroke-width="1.3"/>
<path d="M75 283 C74.5 279 75 276 76.5 275.5 C78 276.5 78.5 274.5 80 275 C80.5 277 79.5 279 80.5 281 C79 282.5 77 282.7 75 283Z" fill="#fafafa" stroke="#888" stroke-width="0.6"/>
<path d="M83.3 274 Q84.3 278 83.5 283" fill="none" stroke="#999" stroke-width="1.3"/>
<rect x="37.1" y="240.8" width="24.7" height="23.6" fill="none" stroke="#9a9aff" stroke-width="1"/>
<path d="M37.1 290 V267.3 H51.3 M60.1 273.1 V290" fill="none" stroke="#9a9aff" stroke-width="1"/>
<rect x="67.3" y="264.5" width="21.9" height="25.5" fill="none" stroke="#9a9aff" stroke-width="1"/>
<text x="44" y="238.2" font-size="5.6" textLength="11.2" lengthAdjust="spacingAndGlyphs" fill="#5450aa" stroke="#5450aa" stroke-width="0.04">79.4</text>
<text x="52.1" y="271.7" font-size="5.6" textLength="11.6" lengthAdjust="spacingAndGlyphs" fill="#5450aa" stroke="#5450aa" stroke-width="0.04">3.46</text>
<text x="90.8" y="279.6" font-size="5.6" textLength="10.2" lengthAdjust="spacingAndGlyphs" fill="#5450aa" stroke="#5450aa" stroke-width="0.04">16.2</text>
<defs><radialGradient id="gb" cx="0.5" cy="0.5" r="0.5"><stop offset="0" stop-color="#777"/><stop offset="0.75" stop-color="#999"/><stop offset="1" stop-color="#ddd"/></radialGradient><linearGradient id="gl" x1="0" y1="0" x2="0" y2="1"><stop offset="0" stop-color="#222"/><stop offset="0.55" stop-color="#333"/><stop offset="0.8" stop-color="#777"/><stop offset="1" stop-color="#aaa"/></linearGradient></defs>
<circle cx="154.8" cy="254.7" r="6.4" fill="url(#gb)" stroke="#aaa" stroke-width="0.4"/>
<circle cx="154.5" cy="254.7" r="3.9" fill="#4a4a4a" stroke="#111" stroke-width="2.2"/>
<path d="M153.2 252.5 L154.4 254.8 L155.8 252.5 M154.4 254.8 V257" fill="none" stroke="#888" stroke-width="0.9"/>
<path d="M150.2 290 C149.8 280 150.4 268.8 157.2 268.8 C163.8 268.8 164.6 280 164.2 290 Z" fill="#cfcfcf" stroke="#aaa" stroke-width="0.5"/>
<path d="M151.3 290 C151 280 151.8 271.1 157.2 271.1 C162.6 271.1 163.2 280 163 290 Z" fill="url(#gl)"/>
<path d="M154.6 274.5 L156.4 278.3 L158.4 274.5 M156.4 278.3 V282.5" fill="none" stroke="#aaa" stroke-width="1.2"/>
<rect x="147.2" y="246.6" width="15.4" height="16.4" fill="none" stroke="#9a9aff" stroke-width="1"/>
<text x="150" y="243.1" font-size="5.6" textLength="12" lengthAdjust="spacingAndGlyphs" fill="#5450aa" stroke="#5450aa" stroke-width="0.04">26.9</text>
<path d="M39.3 426 V409 Q39.3 405.3 43.5 405.3 H56.5 Q58.2 405.3 58.2 408 V426 Z" fill="#d8d8d8"/>
<rect x="53.26" y="419.91" width="0.9" height="0.9" fill="#aaa"/>
<rect x="42.19" y="419.98" width="0.9" height="0.9" fill="#fff"/>
<rect x="40.29" y="422.21" width="0.9" height="0.9" fill="#888"/>
<rect x="50.79" y="420.18" width="0.9" height="0.9" fill="#888"/>
<rect x="42.01" y="415.98" width="0.9" height="0.9" fill="#888"/>
<rect x="49.73" y="421.76" width="0.9" height="0.9" fill="#f4f4f4"/>
<rect x="54.38" y="417.18" width="0.9" height="0.9" fill="#fff"/>
<rect x="41.03" y="406.34" width="0.9" height="0.9" fill="#fff"/>
<rect x="56.77" y="413.03" width="0.9" height="0.9" fill="#aaa"/>
<rect x="49.55" y="418.06" width="0.9" height="0.9" fill="#888"/>
<rect x="51.75" y="415.29" width="0.9" height="0.9" fill="#f4f4f4"/>
<rect x="47.73" y="406.9" width="0.9" height="0.9" fill="#888"/>
<rect x="55.66" y="407.34" width="0.9" height="0.9" fill="#888"/>
<rect x="40.69" y="420.24" width="0.9" height="0.9" fill="#fff"/>
<rect x="54.07" y="422.42" width="0.9" height="0.9" fill="#fff"/>
<rect x="52.63" y="409.6" width="0.9" height="0.9" fill="#aaa"/>
<rect x="48.39" y="413.15" width="0.9" height="0.9" fill="#aaa"/>
<rect x="55.89" y="411.25" width="0.9" height="0.9" fill="#f4f4f4"/>
<rect x="50.61" y="418.36" width="0.9" height="0.9" fill="#f4f4f4"/>
<rect x="50.29" y="412.14" width="0.9" height="0.9" fill="#fff"/>
<rect x="50.68" y="408.17" width="0.9" height="0.9" fill="#aaa"/>
<rect x="40.59" y="410.88" width="0.9" height="0.9" fill="#f4f4f4"/>
<rect x="51.96" y="419.01" width="0.9" height="0.9" fill="#fff"/>
<rect x="52.26" y="411.21" width="0.9" height="0.9" fill="#aaa"/>
<rect x="47.89" y="407.87" width="0.9" height="0.9" fill="#888"/>
<rect x="43.09" y="425.06" width="0.9" height="0.9" fill="#aaa"/>
<rect x="39.82" y="414.68" width="0.9" height="0.9" fill="#888"/>
<rect x="56.93" y="414.49" width="0.9" height="0.9" fill="#fff"/>
<rect x="46.46" y="423.83" width="0.9" height="0.9" fill="#fff"/>
<rect x="40.84" y="407.31" width="0.9" height="0.9" fill="#888"/>
<rect x="44.21" y="412.69" width="0.9" height="0.9" fill="#888"/>
<rect x="54.26" y="415.67" width="0.9" height="0.9" fill="#f4f4f4"/>
<rect x="52.16" y="410.13" width="0.9" height="0.9" fill="#aaa"/>
<rect x="46.59" y="408.68" width="0.9" height="0.9" fill="#aaa"/>
<rect x="51.77" y="413.61" width="0.9" height="0.9" fill="#fff"/>
<rect x="46.99" y="413.02" width="0.9" height="0.9" fill="#f4f4f4"/>
<rect x="54.62" y="405.53" width="0.9" height="0.9" fill="#fff"/>
<rect x="54.6" y="407.9" width="0.9" height="0.9" fill="#fff"/>
<rect x="52.33" y="423.53" width="0.9" height="0.9" fill="#fff"/>
<rect x="44.06" y="406.8" width="0.9" height="0.9" fill="#aaa"/>
<rect x="57.48" y="417.28" width="0.9" height="0.9" fill="#fff"/>
<rect x="56.16" y="420.61" width="0.9" height="0.9" fill="#f4f4f4"/>
<rect x="44.55" y="406.53" width="0.9" height="0.9" fill="#fff"/>
<rect x="50.93" y="408.48" width="0.9" height="0.9" fill="#fff"/>
<rect x="47.35" y="411.81" width="0.9" height="0.9" fill="#fff"/>
<rect x="53.63" y="414.05" width="0.9" height="0.9" fill="#f4f4f4"/>
<rect x="54.12" y="418.12" width="0.9" height="0.9" fill="#888"/>
<rect x="49.39" y="419.89" width="0.9" height="0.9" fill="#f4f4f4"/>
<rect x="56.3" y="413.72" width="0.9" height="0.9" fill="#888"/>
<rect x="53.05" y="418.39" width="0.9" height="0.9" fill="#fff"/>
<rect x="48.24" y="423.74" width="0.9" height="0.9" fill="#888"/>
<rect x="41.79" y="414.94" width="0.9" height="0.9" fill="#fff"/>
<rect x="44.57" y="410.61" width="0.9" height="0.9" fill="#fff"/>
<rect x="46.81" y="410.27" width="0.9" height="0.9" fill="#aaa"/>
<rect x="49.53" y="413.39" width="0.9" height="0.9" fill="#fff"/>
<rect x="51.08" y="407" width="0.9" height="0.9" fill="#888"/>
<rect x="55.81" y="415.44" width="0.9" height="0.9" fill="#fff"/>
<rect x="47.65" y="412.16" width="0.9" height="0.9" fill="#aaa"/>
<rect x="47.19" y="416.46" width="0.9" height="0.9" fill="#fff"/>
<rect x="41.13" y="412.34" width="0.9" height="0.9" fill="#f4f4f4"/>
<rect x="45.25" y="412.87" width="0.9" height="0.9" fill="#888"/>
<rect x="43.14" y="405.9" width="0.9" height="0.9" fill="#aaa"/>
<rect x="46.39" y="420.42" width="0.9" height="0.9" fill="#fff"/>
<rect x="46.28" y="412.26" width="0.9" height="0.9" fill="#f4f4f4"/>
<rect x="48.47" y="416.99" width="0.9" height="0.9" fill="#fff"/>
<rect x="41.77" y="415.57" width="0.9" height="0.9" fill="#fff"/>
<rect x="41.17" y="423.44" width="0.9" height="0.9" fill="#aaa"/>
<rect x="46.7" y="414.42" width="0.9" height="0.9" fill="#fff"/>
<rect x="54.78" y="422.96" width="0.9" height="0.9" fill="#f4f4f4"/>
<rect x="41.79" y="414" width="0.9" height="0.9" fill="#aaa"/>
<path d="M44 409 C45 405.5 48 405.8 50 409.5 C51 412 48 414 46 413" fill="none" stroke="#999" stroke-width="1.2"/>
<path d="M47 413.1 C49 411.5 51 411.3 52.6 411.7" fill="none" stroke="#888" stroke-width="1"/>
<path d="M46.3 409.5 C47 407.8 48 407.4 49.5 407.4 H52.6 C54.5 407.4 55.5 408.5 55.5 410.5 C55.5 413 55 415.5 53.5 416.4 L52 417.2" fill="none" stroke="#000" stroke-width="2"/>
<circle cx="42.5" cy="421.8" r="2.6" fill="#ddd" stroke="#000" stroke-width="1.7"/>
<path d="M42.2 419.2 C42 417 42.3 415.5 43 414" fill="none" stroke="#333" stroke-width="1"/>
<path d="M46.4 424.6 C47.5 422.6 49 422 50 422 C52 422.1 53.4 423.3 54.3 425" fill="none" stroke="#000" stroke-width="2"/>
<path d="M39.8 410 V420 M55.5 417 L57 424" stroke="#888" stroke-width="1"/>
<rect x="37.1" y="376.8" width="24.6" height="23.3" fill="none" stroke="#9a9aff" stroke-width="1"/>
<path d="M37.1 426 V403.4 H53 M59.3 405.5 V426" fill="none" stroke="#9a9aff" stroke-width="1"/>
<rect x="67" y="400.1" width="22" height="25.9" fill="none" stroke="#9a9aff" stroke-width="1"/>
<text x="48" y="375.6" font-size="5.6" fill="#5450aa" stroke="#5450aa" stroke-width="0.04">0</text>
<text x="53" y="405.5" font-size="5.6" textLength="11" lengthAdjust="spacingAndGlyphs" fill="#5450aa" stroke="#5450aa" stroke-width="0.04">98.4</text>
<text x="90.8" y="410.8" font-size="5.6" textLength="14" lengthAdjust="spacingAndGlyphs" fill="#5450aa" stroke="#5450aa" stroke-width="0.04">0.321</text>
<path d="M149.8 426.3 C149.4 418 149.3 409 150.5 405.5 C151.5 403.2 154 402.9 157 402.9 C161 402.9 163.6 403.4 164.2 406.5 C164.8 410 164.8 418 164.4 426.3 Z" fill="#cdcdcd" stroke="#aaa" stroke-width="0.5"/>
<path d="M151 420 C150.8 414 150.8 408 152 406.2 C153 405 155 404.9 157 404.9 C160 404.9 162.3 405.3 162.9 407.5 C163.4 410 163.4 415 163.1 420 C160 418.5 154 418.5 151 420 Z" fill="#1e1e1e"/>
<path d="M151.3 419.8 C154 418.3 160 418.3 162.9 419.8 L162.6 425 C160 424 154 424 151.6 425 Z" fill="#777"/>
<path d="M155.2 408.6 L157.4 412.2 L159.4 408.4 M157.4 412.2 V416" fill="none" stroke="#c8c8c8" stroke-width="1.3"/>
<path d="M153 420 L153.6 425.5 M156 420 L156.6 425.8 M159.8 420 L159.2 425.5" stroke="#555" stroke-width="0.7"/>
<rect x="147" y="382.4" width="15.4" height="15.7" fill="none" stroke="#9a9aff" stroke-width="1"/>
<text x="153" y="380.4" font-size="5.6" fill="#5450aa" stroke="#5450aa" stroke-width="0.04">0</text>
<text x="235.2" y="199.1" font-size="12" font-weight="bold" fill="#000" stroke="#000" stroke-width="0.22">C</text>
<text x="236.9" y="223.4" font-size="7" textLength="10.3" lengthAdjust="spacingAndGlyphs" stroke="#1e1e1e" stroke-width="0.22">(%)</text>
<line x1="253.5" y1="229.4" x2="253.5" y2="421" stroke="#111" stroke-width="1"/>
<line x1="252.9" y1="417.8" x2="512.4" y2="417.8" stroke="#333" stroke-width="1.5"/>
<line x1="250.2" y1="232.4" x2="253.5" y2="232.4" stroke="#111" stroke-width="1"/>
<text x="247.3" y="234.9" font-size="7" text-anchor="end" stroke="#1e1e1e" stroke-width="0.1">100</text>
<line x1="250.2" y1="269.48" x2="253.5" y2="269.48" stroke="#111" stroke-width="1"/>
<text x="247.3" y="271.98" font-size="7" text-anchor="end" stroke="#1e1e1e" stroke-width="0.1">80</text>
<line x1="250.2" y1="306.56" x2="253.5" y2="306.56" stroke="#111" stroke-width="1"/>
<text x="247.3" y="309.06" font-size="7" text-anchor="end" stroke="#1e1e1e" stroke-width="0.1">60</text>
<line x1="250.2" y1="343.64" x2="253.5" y2="343.64" stroke="#111" stroke-width="1"/>
<text x="247.3" y="346.14" font-size="7" text-anchor="end" stroke="#1e1e1e" stroke-width="0.1">40</text>
<line x1="250.2" y1="380.72" x2="253.5" y2="380.72" stroke="#111" stroke-width="1"/>
<text x="247.3" y="383.22" font-size="7" text-anchor="end" stroke="#1e1e1e" stroke-width="0.1">20</text>
<line x1="250.2" y1="417.8" x2="253.5" y2="417.8" stroke="#111" stroke-width="1"/>
<text x="247.3" y="420.3" font-size="7" text-anchor="end" stroke="#1e1e1e" stroke-width="0.1">0</text>
<line x1="253.6" y1="417.8" x2="253.6" y2="420.9" stroke="#111" stroke-width="1"/>
<text x="253.6" y="430" font-size="7" text-anchor="middle" stroke="#1e1e1e" stroke-width="0.1">0</text>
<line x1="315.75" y1="417.8" x2="315.75" y2="420.9" stroke="#111" stroke-width="1"/>
<text x="315.75" y="430" font-size="7" text-anchor="middle" stroke="#1e1e1e" stroke-width="0.1">20</text>
<line x1="377.9" y1="417.8" x2="377.9" y2="420.9" stroke="#111" stroke-width="1"/>
<text x="377.9" y="430" font-size="7" text-anchor="middle" stroke="#1e1e1e" stroke-width="0.1">40</text>
<line x1="440.05" y1="417.8" x2="440.05" y2="420.9" stroke="#111" stroke-width="1"/>
<text x="440.05" y="430" font-size="7" text-anchor="middle" stroke="#1e1e1e" stroke-width="0.1">60</text>
<line x1="502.2" y1="417.8" x2="502.2" y2="420.9" stroke="#111" stroke-width="1"/>
<text x="502.2" y="430" font-size="7" text-anchor="middle" stroke="#1e1e1e" stroke-width="0.1">80</text>
<text x="363.7" y="443.2" font-size="8.8" textLength="39.3" lengthAdjust="spacingAndGlyphs" stroke="#1e1e1e" stroke-width="0.12">Age (weeks)</text>
<path d="M253.5 232.65H431.1V241.46H434.2V250.28H437.1V259.11H443.4V267.92H449.7V276.73H455.7V285.55H462.2V303.19H465.1V312.01H468.6V320.82H471.2V329.63H474.7V347.26H481.1V356.09H483.6V364.9H489.7V373.72H499.4V382.53H508.6" fill="none" stroke="#a60c36" stroke-width="1.5"/>
<rect x="0.5" y="0.5" width="519" height="468" fill="none" stroke="#000" stroke-width="1.2"/>
</svg>
</body></html>
